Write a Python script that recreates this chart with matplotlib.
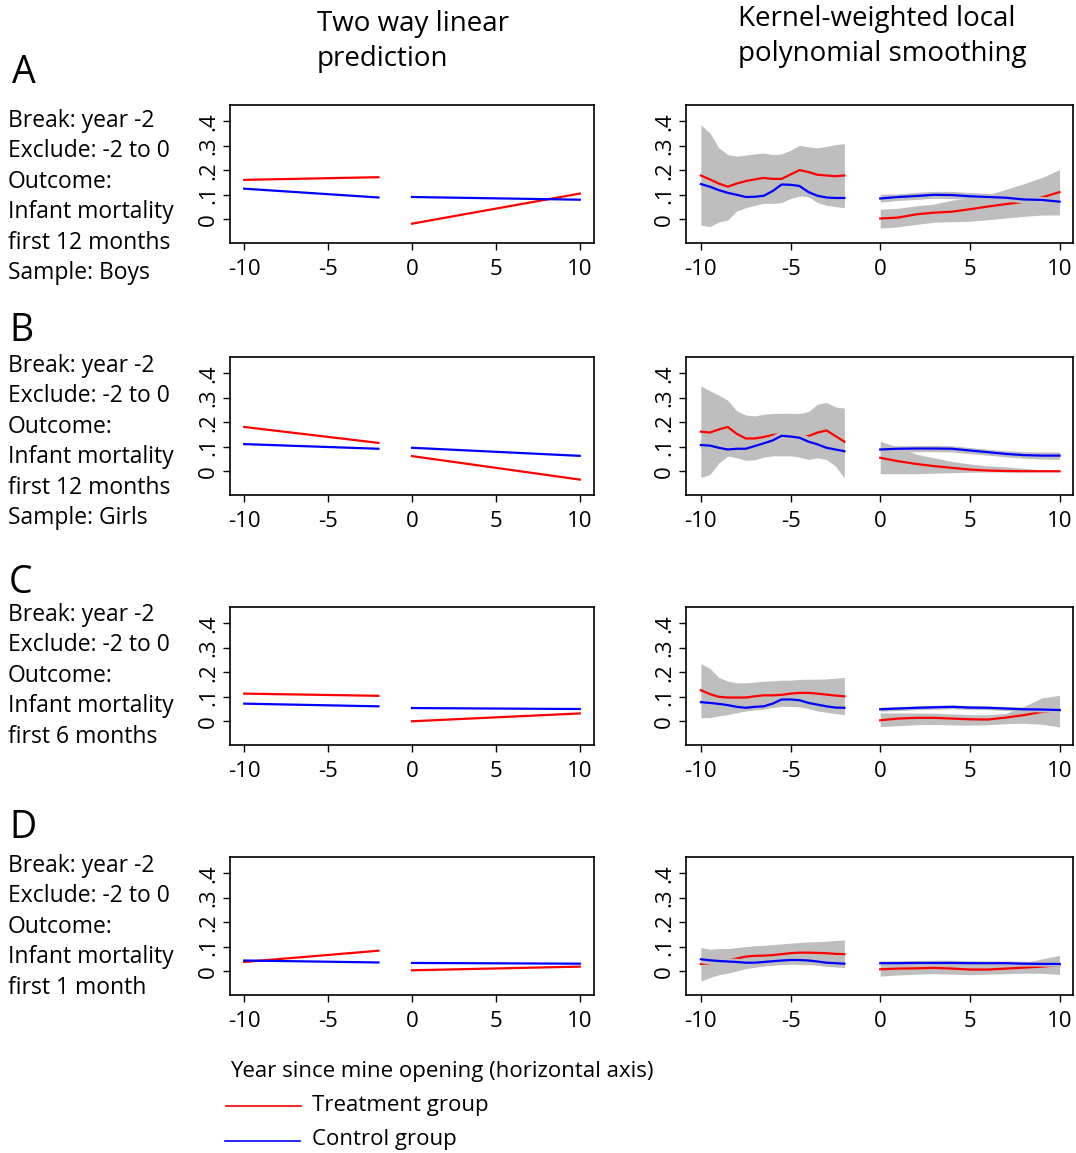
import matplotlib
matplotlib.use("Agg")
import matplotlib.pyplot as plt

plt.rcParams["font.family"] = ["Open Sans", "DejaVu Sans"]

W, H = 1076, 1153

# ── data ────────────────────────────────────────────────────────────
PANEL_LETTERS = ["A", "B", "C", "D"]
PANEL_NOTES = [
    ["Break: year -2", "Exclude: -2 to 0", "Outcome:", "Infant mortality", "first 12 months", "Sample: Boys"],
    ["Break: year -2", "Exclude: -2 to 0", "Outcome:", "Infant mortality", "first 12 months", "Sample: Girls"],
    ["Break: year -2", "Exclude: -2 to 0", "Outcome:", "Infant mortality", "first 6 months"],
    ["Break: year -2", "Exclude: -2 to 0", "Outcome:", "Infant mortality", "first 1 month"],
]
XTICKS = [-10, -5, 0, 5, 10]
XTICK_LABELS = ["-10", "-5", "0", "5", "10"]
YTICKS = [0, 0.1, 0.2, 0.3, 0.4]
YTICK_LABELS = ["0", ".1", ".2", ".3", ".4"]

# two way linear prediction (segment end points)
LIN_PRE_X = [-10, -2]
LIN_POST_X = [0, 10]
LIN_RED_PRE = [[0.161, 0.172], [0.181, 0.116], [0.113, 0.104], [0.038, 0.084]]
LIN_BLUE_PRE = [[0.125, 0.089], [0.111, 0.092], [0.072, 0.061], [0.044, 0.036]]
LIN_RED_POST = [[-0.018, 0.105], [0.062, -0.034], [0.000, 0.032], [0.004, 0.019]]
LIN_BLUE_POST = [[0.091, 0.080], [0.096, 0.063], [0.054, 0.050], [0.034, 0.031]]

# kernel-weighted local polynomial smoothing
YEARS_PRE = [-10, -9.5, -9, -8.5, -8, -7.5, -7, -6.5, -6, -5.5, -5, -4.5, -4, -3.5, -3, -2.5, -2]
YEARS_POST = [0, 1, 2, 3, 4, 5, 6, 7, 8, 9, 10]

SM_RED_PRE = [
    [0.179, 0.163, 0.146, 0.133, 0.146, 0.156, 0.163, 0.169, 0.165, 0.165, 0.183, 0.201, 0.193, 0.182, 0.179, 0.176, 0.179],
    [0.162, 0.158, 0.171, 0.181, 0.153, 0.134, 0.134, 0.140, 0.148, 0.153, 0.151, 0.142, 0.144, 0.158, 0.167, 0.144, 0.121],
    [0.127, 0.111, 0.100, 0.097, 0.097, 0.097, 0.102, 0.106, 0.106, 0.108, 0.113, 0.116, 0.116, 0.113, 0.109, 0.105, 0.102],
    [0.030, 0.033, 0.038, 0.045, 0.052, 0.060, 0.063, 0.064, 0.066, 0.070, 0.074, 0.076, 0.076, 0.075, 0.074, 0.071, 0.070],
]
SM_BLUE_PRE = [
    [0.144, 0.133, 0.119, 0.108, 0.100, 0.091, 0.092, 0.096, 0.115, 0.142, 0.141, 0.136, 0.111, 0.096, 0.089, 0.087, 0.087],
    [0.107, 0.105, 0.096, 0.089, 0.092, 0.092, 0.103, 0.114, 0.126, 0.145, 0.142, 0.137, 0.121, 0.110, 0.096, 0.089, 0.082],
    [0.078, 0.075, 0.071, 0.066, 0.059, 0.055, 0.059, 0.061, 0.072, 0.089, 0.089, 0.086, 0.075, 0.068, 0.061, 0.056, 0.055],
    [0.049, 0.045, 0.042, 0.040, 0.038, 0.035, 0.035, 0.038, 0.041, 0.044, 0.046, 0.046, 0.044, 0.040, 0.035, 0.033, 0.031],
]
BAND_RED_PRE_LO = [
    [-0.024, -0.030, -0.011, -0.003, 0.034, 0.047, 0.057, 0.065, 0.065, 0.068, 0.085, 0.095, 0.092, 0.068, 0.057, 0.052, 0.047],
    [-0.025, -0.014, 0.034, 0.062, 0.055, 0.045, 0.047, 0.058, 0.063, 0.063, 0.063, 0.058, 0.048, 0.055, 0.048, 0.021, -0.027],
    [0.015, 0.015, 0.022, 0.027, 0.035, 0.042, 0.048, 0.052, 0.056, 0.061, 0.061, 0.059, 0.052, 0.042, 0.037, 0.031, 0.027],
    [-0.040, -0.026, -0.014, -0.008, 0.001, 0.011, 0.016, 0.022, 0.025, 0.027, 0.029, 0.027, 0.027, 0.027, 0.025, 0.019, 0.015],
]
BAND_RED_PRE_HI = [
    [0.386, 0.353, 0.292, 0.264, 0.258, 0.262, 0.267, 0.271, 0.264, 0.267, 0.282, 0.302, 0.296, 0.292, 0.298, 0.305, 0.309],
    [0.349, 0.329, 0.311, 0.290, 0.247, 0.230, 0.226, 0.233, 0.236, 0.237, 0.237, 0.236, 0.244, 0.274, 0.281, 0.263, 0.258],
    [0.236, 0.216, 0.179, 0.164, 0.157, 0.157, 0.160, 0.164, 0.165, 0.168, 0.168, 0.171, 0.172, 0.172, 0.173, 0.176, 0.179],
    [0.097, 0.090, 0.093, 0.093, 0.097, 0.101, 0.104, 0.106, 0.109, 0.112, 0.115, 0.117, 0.120, 0.121, 0.123, 0.126, 0.128],
]
BAND_BLUE_PRE_LO = [
    [0.124, 0.113, 0.099, 0.088, 0.080, 0.071, 0.072, 0.076, 0.095, 0.122, 0.121, 0.116, 0.091, 0.076, 0.069, 0.067, 0.067],
    [0.085, 0.083, 0.074, 0.067, 0.070, 0.070, 0.081, 0.092, 0.104, 0.123, 0.120, 0.115, 0.099, 0.088, 0.074, 0.067, 0.060],
    [0.066, 0.063, 0.059, 0.054, 0.047, 0.043, 0.047, 0.049, 0.060, 0.077, 0.077, 0.074, 0.063, 0.056, 0.049, 0.044, 0.043],
    [0.034, 0.030, 0.027, 0.025, 0.023, 0.020, 0.020, 0.023, 0.026, 0.029, 0.031, 0.031, 0.029, 0.025, 0.020, 0.018, 0.016],
]
BAND_BLUE_PRE_HI = [
    [0.164, 0.153, 0.139, 0.130, 0.120, 0.111, 0.112, 0.116, 0.135, 0.162, 0.161, 0.156, 0.131, 0.116, 0.109, 0.107, 0.107],
    [0.129, 0.127, 0.118, 0.111, 0.114, 0.114, 0.125, 0.136, 0.148, 0.167, 0.164, 0.159, 0.143, 0.132, 0.118, 0.111, 0.104],
    [0.090, 0.087, 0.083, 0.078, 0.071, 0.067, 0.071, 0.073, 0.084, 0.101, 0.101, 0.098, 0.087, 0.080, 0.073, 0.068, 0.067],
    [0.064, 0.060, 0.057, 0.055, 0.053, 0.050, 0.050, 0.053, 0.056, 0.059, 0.061, 0.061, 0.059, 0.055, 0.050, 0.048, 0.046],
]

SM_RED_POST = [
    [0.003, 0.007, 0.020, 0.027, 0.031, 0.041, 0.052, 0.062, 0.071, 0.089, 0.111],
    [0.055, 0.041, 0.030, 0.021, 0.014, 0.007, 0.003, 0.001, 0.000, 0.000, 0.000],
    [0.004, 0.011, 0.014, 0.014, 0.011, 0.008, 0.007, 0.015, 0.025, 0.038, 0.045],
    [0.008, 0.011, 0.012, 0.014, 0.011, 0.007, 0.007, 0.011, 0.015, 0.019, 0.025],
]
SM_BLUE_POST = [
    [0.085, 0.091, 0.095, 0.100, 0.099, 0.094, 0.091, 0.088, 0.081, 0.079, 0.072],
    [0.089, 0.092, 0.093, 0.093, 0.092, 0.085, 0.078, 0.071, 0.066, 0.064, 0.064],
    [0.049, 0.052, 0.055, 0.057, 0.059, 0.056, 0.055, 0.052, 0.049, 0.048, 0.046],
    [0.033, 0.033, 0.034, 0.034, 0.034, 0.033, 0.033, 0.033, 0.031, 0.030, 0.030],
]
BAND_RED_POST_LO = [
    [-0.036, -0.031, -0.021, -0.012, -0.010, -0.008, -0.002, 0.005, 0.012, 0.017, 0.018],
    [-0.010, -0.010, -0.010, -0.008, -0.006, -0.004, -0.003, -0.003, -0.002, -0.001, -0.001],
    [-0.022, -0.018, -0.014, -0.013, -0.015, -0.016, -0.014, -0.010, -0.008, -0.012, -0.023],
    [-0.020, -0.015, -0.012, -0.010, -0.012, -0.014, -0.012, -0.010, -0.008, -0.008, -0.013],
]
BAND_RED_POST_HI = [
    [0.041, 0.045, 0.055, 0.062, 0.078, 0.086, 0.100, 0.122, 0.145, 0.170, 0.203],
    [0.123, 0.098, 0.070, 0.055, 0.040, 0.030, 0.022, 0.018, 0.012, 0.005, 0.003],
    [0.034, 0.034, 0.034, 0.033, 0.030, 0.027, 0.027, 0.032, 0.060, 0.095, 0.106],
    [0.028, 0.030, 0.031, 0.032, 0.030, 0.027, 0.027, 0.030, 0.036, 0.050, 0.065],
]
BAND_BLUE_POST_LO = [
    [0.070, 0.077, 0.081, 0.086, 0.085, 0.080, 0.077, 0.074, 0.067, 0.065, 0.058],
    [0.076, 0.079, 0.080, 0.080, 0.079, 0.072, 0.066, 0.059, 0.053, 0.050, 0.049],
    [0.041, 0.044, 0.047, 0.049, 0.051, 0.048, 0.047, 0.044, 0.040, 0.038, 0.035],
    [0.025, 0.025, 0.026, 0.026, 0.026, 0.025, 0.025, 0.024, 0.022, 0.021, 0.020],
]
BAND_BLUE_POST_HI = [
    [0.102, 0.104, 0.110, 0.114, 0.114, 0.109, 0.106, 0.102, 0.095, 0.093, 0.086],
    [0.103, 0.104, 0.105, 0.106, 0.104, 0.097, 0.090, 0.084, 0.080, 0.079, 0.079],
    [0.058, 0.060, 0.063, 0.065, 0.067, 0.064, 0.063, 0.060, 0.058, 0.058, 0.057],
    [0.042, 0.043, 0.044, 0.045, 0.045, 0.043, 0.042, 0.042, 0.041, 0.040, 0.040],
]

RED = "#FF0000"
BLUE = "#0000FF"
GREY = "#BEBEBE"


def px(x, y):
    """pixel position (from top-left) -> figure fraction"""
    return x / W, 1 - y / H


def style_axes(ax, xlim):
    ax.set_xlim(*xlim)
    ax.set_ylim(-0.097, 0.467)
    ax.set_xticks(XTICKS, labels=XTICK_LABELS)
    ax.set_yticks(YTICKS, labels=YTICK_LABELS)
    for lab in ax.get_yticklabels():
        lab.set_rotation(90)
        lab.set_va("center")
    ax.tick_params(direction="out", length=5.3, width=1.0, labelsize=16, colors="black")
    ax.tick_params(axis="x", pad=6)
    ax.tick_params(axis="y", pad=2.5)
    for sp in ax.spines.values():
        sp.set_linewidth(1.2)


fig = plt.figure(figsize=(W / 100, H / 100), dpi=100)

row_tops = [105, 357, 607, 857]
row_h = 138
left_ax = (230, 594)
right_ax = (686, 1073)
letter_pos = [(12, 73), (9, 331), (9, 583), (9, 828)]
note_top = [121, 366, 615, 866]
LINE_STEP = 30.4

for i in range(4):
    top = row_tops[i]
    # ── 左欄：線性預測 ──
    x0, y0 = px(left_ax[0], top + row_h)
    axl = fig.add_axes([x0, y0, (left_ax[1] - left_ax[0]) / W, row_h / H])
    axl.plot(LIN_PRE_X, LIN_RED_PRE[i], color=RED, lw=1.6)
    axl.plot(LIN_POST_X, LIN_RED_POST[i], color=RED, lw=1.6)
    axl.plot(LIN_PRE_X, LIN_BLUE_PRE[i], color=BLUE, lw=1.6)
    axl.plot(LIN_POST_X, LIN_BLUE_POST[i], color=BLUE, lw=1.6)
    style_axes(axl, (-10.85, 10.85))

    # ── 右欄：kernel smoothing + CI ──
    x0, y0 = px(right_ax[0], top + row_h)
    axr = fig.add_axes([x0, y0, (right_ax[1] - right_ax[0]) / W, row_h / H])
    axr.fill_between(YEARS_PRE, BAND_RED_PRE_LO[i], BAND_RED_PRE_HI[i], color=GREY, lw=0, zorder=1)
    axr.fill_between(YEARS_POST, BAND_RED_POST_LO[i], BAND_RED_POST_HI[i], color=GREY, lw=0, zorder=1)
    axr.plot(YEARS_PRE, SM_RED_PRE[i], color=RED, lw=1.6, zorder=2)
    axr.plot(YEARS_POST, SM_RED_POST[i], color=RED, lw=1.6, zorder=2)
    axr.fill_between(YEARS_PRE, BAND_BLUE_PRE_LO[i], BAND_BLUE_PRE_HI[i], color=GREY, lw=0, zorder=3)
    axr.fill_between(YEARS_POST, BAND_BLUE_POST_LO[i], BAND_BLUE_POST_HI[i], color=GREY, lw=0, zorder=3)
    axr.plot(YEARS_PRE, SM_BLUE_PRE[i], color=BLUE, lw=1.6, zorder=4)
    axr.plot(YEARS_POST, SM_BLUE_POST[i], color=BLUE, lw=1.6, zorder=4)
    style_axes(axr, (-10.83, 10.75))

    # panel letter + description
    fig.text(*px(*letter_pos[i]), PANEL_LETTERS[i], fontsize=27, va="center", ha="left")
    for k, line in enumerate(PANEL_NOTES[i]):
        fig.text(*px(8, note_top[i] + k * LINE_STEP), line, fontsize=16.5,
                 va="center", ha="left")

# column titles
fig.text(*px(317, 24), "Two way linear", fontsize=20, va="center", ha="left")
fig.text(*px(317, 59), "prediction", fontsize=20, va="center", ha="left")
fig.text(*px(738, 19), "Kernel-weighted local", fontsize=20, va="center", ha="left")
fig.text(*px(738, 54), "polynomial smoothing", fontsize=20, va="center", ha="left")

# legend
fig.text(*px(230, 1071), "Year since mine opening (horizontal axis)", fontsize=16,
         va="center", ha="left")
fig.add_artist(plt.Line2D([226 / W, 301 / W], [1 - 1106 / H, 1 - 1106 / H], color=RED, lw=1.2))
fig.text(*px(312, 1105), "Treatment group", fontsize=16, va="center", ha="left")
fig.add_artist(plt.Line2D([225 / W, 300 / W], [1 - 1141 / H, 1 - 1141 / H], color=BLUE, lw=1.2))
fig.text(*px(312, 1140), "Control group", fontsize=16, va="center", ha="left")

fig.savefig("out.png", dpi=100)
